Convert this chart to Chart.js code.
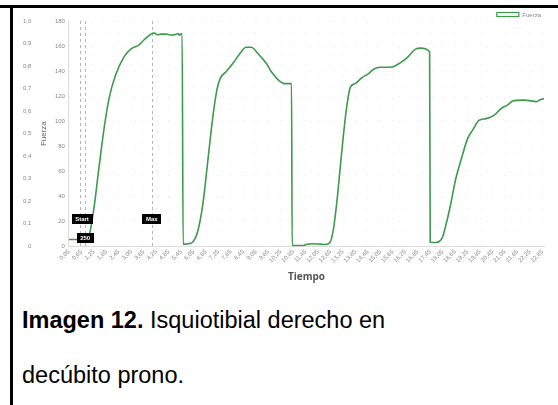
<!DOCTYPE html>
<html><head><meta charset="utf-8">
<script src="https://cdn.jsdelivr.net/npm/chart.js@4/dist/chart.umd.min.js"></script>
<style>
html,body{margin:0;padding:0;background:#fff;width:558px;height:405px;overflow:hidden;position:relative;font-family:'Liberation Sans',Arial,sans-serif}
#topline{position:absolute;left:0;top:5px;width:558px;height:3px;background:#000}
#leftline{position:absolute;left:10px;top:5px;width:3px;height:400px;background:#000}
#wrap{position:absolute;left:13px;top:8px;width:545px;height:282px}
#cap{position:absolute;left:22px;top:293px;font-size:23.5px;line-height:55px;color:#000;width:536px;white-space:nowrap}
</style></head><body>
<div id="topline"></div><div id="leftline"></div>
<div id="wrap"><canvas id="c" width="545" height="282"></canvas></div>
<div id="cap"><b>Imagen 12.</b> Isquiotibial derecho en<br>decúbito prono.</div>
<script>
// ---- data ----
const timeSec = [0.05,0.93,1.06,1.25,1.49,1.74,1.98,2.30,2.71,3.03,3.43,3.67,4.00,4.16,4.32,4.48,4.72,4.88,5.05,5.21,5.30,5.37,5.45,5.50,
  5.55,5.80,6.00,6.24,6.49,6.73,6.97,7.16,7.33,7.62,7.94,8.26,8.59,8.83,9.15,9.56,9.80,10.20,10.44,10.77,
  10.80,11.33,11.50,11.82,12.14,12.40,12.62,12.79,12.95,13.11,13.27,13.44,13.60,13.84,14.16,14.48,14.72,15.05,15.62,16.02,16.34,16.74,16.99,17.42,
  17.45,17.71,17.92,18.04,18.20,18.44,18.68,18.93,19.25,19.49,19.81,20.14,20.54,20.86,21.17,21.43,21.91,22.40,22.55,22.72,22.93];
const fuerza = [5.4,5.4,11.2,30,62,94,118,137,151.6,157.5,161,165,169.5,170.3,169,169.5,169.5,169,168.7,169.5,170,168.7,169.8,169.8,
  1.6,2.0,3.2,11.2,32.6,67,102,123.5,134,139.5,146,153.5,159,159,154,146,139.5,132,130,130,
  0.5,0.5,1.6,2,1.7,1.4,3,14,35,62,89,113,127,130,134.7,138,141.5,143,143.3,146.8,150.8,157.5,158.3,155.5,
  3.2,3,4.3,7.2,16.6,34,54,68.7,86,92.8,100.8,102,104.8,110,112.8,116,116.8,116,115.5,116.8,118];
const xTicks = [0.05,0.65,1.25,1.85,2.45,3.05,3.65,4.25,4.85,5.45,6.05,6.65,7.25,7.85,8.45,9.05,9.65,10.25,10.85,11.45,12.05,12.65,13.25,13.85,14.45,15.05,15.65,16.25,16.85,17.45,18.05,18.65,19.25,19.85,20.45,21.05,21.65,22.25,22.85];
const markerLines = [0.56, 0.83, 4.04];
const markerLabels = ['Start','Max','250'];
const markerLabelT = [0.68, 4.04, 0.83];
const markerLabelV = [22, 22, 6.6];

const comma = (v, d) => v === 0 ? '0' : v.toFixed(d).replace('.', ',');
const FONT = '"Liberation Sans", Arial, sans-serif';

const markers = {
  id: 'markers',
  beforeDatasetsDraw(chart) {
    const {ctx, chartArea, scales} = chart;
    ctx.save();
    ctx.strokeStyle = '#b5b5b5';
    ctx.lineWidth = 1;
    ctx.setLineDash([3, 3]);
    markerLines.forEach(t => {
      const x = Math.round(scales.x.getPixelForValue(t)) + 0.5;
      ctx.beginPath(); ctx.moveTo(x, chartArea.top); ctx.lineTo(x, chartArea.bottom); ctx.stroke();
    });
    ctx.restore();
  },
  afterDatasetsDraw(chart) {
    const {ctx, scales} = chart;
    ctx.save();
    ctx.font = 'bold 6px ' + FONT;
    ctx.textAlign = 'center'; ctx.textBaseline = 'middle';
    markerLabels.forEach((txt, i) => {
      const x = scales.x.getPixelForValue(markerLabelT[i]);
      const y = scales.y.getPixelForValue(markerLabelV[i]);
      const w = ctx.measureText(txt).width + 7, h = 10;
      ctx.fillStyle = '#000';
      ctx.fillRect(Math.round(x - w / 2), Math.round(y - h / 2), Math.round(w), h);
      ctx.fillStyle = '#fff';
      ctx.fillText(txt, x, y + 0.5);
    });
    ctx.restore();
  },
  afterDraw(chart) {
    // small legend, top right
    const {ctx} = chart;
    const ds = chart.data.datasets[0];
    ctx.save();
    ctx.font = '6px ' + FONT;
    const tw = ctx.measureText(ds.label).width;
    const right = chart.width - 17;
    const tx = right - tw;
    const bx = tx - 4 - 22;
    ctx.strokeStyle = ds.borderColor;
    ctx.lineWidth = 1.2;
    ctx.strokeRect(bx + 0.5, 4.5, 22, 4);
    ctx.fillStyle = '#888';
    ctx.textBaseline = 'middle';
    ctx.fillText(ds.label, tx, 7);
    ctx.restore();
  }
};

const tickFont = {family: FONT, size: 6};
new Chart(document.getElementById('c'), {
  type: 'line',
  data: {
    datasets: [{
      label: 'Fuerza',
      data: timeSec.map((t, i) => ({x: t, y: fuerza[i]})),
      borderColor: '#3d9a4b',
      backgroundColor: 'rgba(255,255,255,0)',
      borderWidth: 1.6,
      pointRadius: 0,
      cubicInterpolationMode: 'monotone',
      yAxisID: 'y'
    }]
  },
  options: {
    responsive: false,
    animation: false,
    devicePixelRatio: 1,
    layout: {padding: {left: 4, right: 14, top: 13, bottom: 7}},
    plugins: {
      legend: {display: false},
      tooltip: {enabled: false}
    },
    scales: {
      x: {
        type: 'linear', min: 0.05, max: 22.93,
        afterBuildTicks: s => { s.ticks = xTicks.map(v => ({value: v})); },
        ticks: {autoSkip: false, maxRotation: 45, minRotation: 45, font: tickFont, color: '#888', padding: 2,
          callback: v => comma(v, 2)},
        grid: {color: '#ececec', drawTicks: false},
        border: {color: '#dcdcdc', dash: [1, 10]},
        title: {display: true, text: 'Tiempo', font: {family: '"Open Sans", Arial, sans-serif', size: 10, weight: 'bold'}, color: '#555', padding: {top: 5, bottom: 0}}
      },
      y: {
        position: 'left', weight: 0, min: 0, max: 180,
        ticks: {stepSize: 20, font: tickFont, color: '#888', padding: 4, callback: v => comma(v, 0)},
        grid: {color: '#ececec', drawTicks: false},
        border: {color: '#dcdcdc', dash: [1, 10]},
        title: {display: true, text: 'Fuerza', font: {size: 8, family: FONT}, color: '#666', padding: 2}
      },
      y0: {
        position: 'left', weight: 1, min: 0, max: 1,
        ticks: {stepSize: 0.1, font: tickFont, color: '#888', padding: 6, callback: v => comma(v, 1)},
        grid: {display: false, drawTicks: false},
        border: {display: false}
      }
    }
  },
  plugins: [markers]
});
</script>
</body></html>
